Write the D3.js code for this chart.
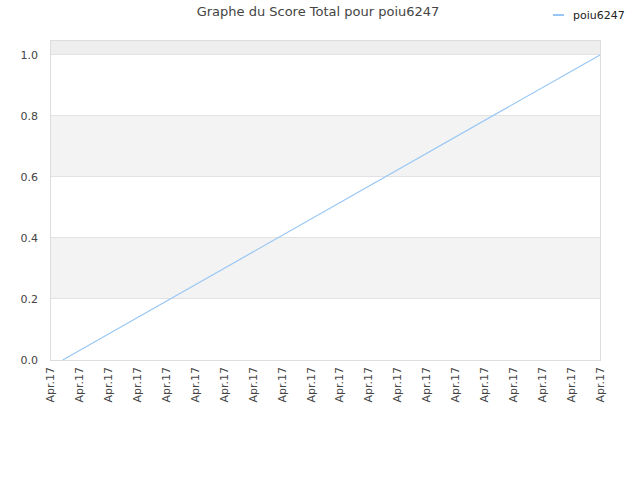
<!DOCTYPE html>
<html>
<head>
<meta charset="utf-8">
<script src="https://cdn.jsdelivr.net/npm/d3@7"></script>
<style>
body { margin: 0; background: #fff; }
svg { font-family: "DejaVu Sans", sans-serif; }
</style>
</head>
<body>
<svg id="chart" width="640" height="480"></svg>
<script>
/*********************
	Data
**********************/
var chart_title = "Graphe du Score Total pour poiu6247";
var series_name = "poiu6247";
var tick_labels = ["Apr.17", "Apr.17", "Apr.17", "Apr.17", "Apr.17", "Apr.17", "Apr.17",
	"Apr.17", "Apr.17", "Apr.17", "Apr.17", "Apr.17", "Apr.17", "Apr.17", "Apr.17",
	"Apr.17", "Apr.17", "Apr.17", "Apr.17", "Apr.17"];
var point_x = [0.44, 19];
var point_y = [0, 1];
var y_ticks = [0, 0.2, 0.4, 0.6, 0.8, 1.0];

/*********************
	Layout
**********************/
var margin = {left: 50, right: 40, top: 40, bottom: 120};
var width = 640 - margin.left - margin.right;
var height = 480 - margin.top - margin.bottom;

var svg = d3.select("#chart");
var g = svg.append("g").attr("transform", "translate(" + margin.left + "," + margin.top + ")");

var x = d3.scaleLinear().domain([0, tick_labels.length - 1]).range([0, width]);
var y = d3.scaleLinear().domain([0, 1.049]).range([height, 0]);

// alternating bands
var band_edges = [0, 0.2, 0.4, 0.6, 0.8, 1.0, 1.049];
for (var i = 0; i < band_edges.length - 1; i++) {
	var fill = (i % 2 == 1) ? "#f3f3f3" : "#ffffff";
	if (i == band_edges.length - 2) fill = "#eeeeee";
	g.append("rect")
		.attr("x", 0)
		.attr("y", y(band_edges[i + 1]))
		.attr("width", width)
		.attr("height", y(band_edges[i]) - y(band_edges[i + 1]))
		.attr("fill", fill);
}

// grid lines
g.selectAll(".grid").data(y_ticks).enter().append("line")
	.attr("x1", 0).attr("x2", width)
	.attr("y1", function(d){ return y(d); })
	.attr("y2", function(d){ return y(d); })
	.attr("stroke", "#e2e2e2").attr("stroke-width", 1)
	.attr("shape-rendering", "crispEdges");

// frame
g.append("rect")
	.attr("x", 0).attr("y", 0)
	.attr("width", width).attr("height", height)
	.attr("fill", "none").attr("stroke", "#dddddd")
	.attr("shape-rendering", "crispEdges");

// y axis labels
g.selectAll(".ylab").data(y_ticks).enter().append("text")
	.attr("x", -12)
	.attr("y", function(d){ return y(d); })
	.attr("dy", "0.35em")
	.attr("text-anchor", "end")
	.attr("font-size", 11)
	.attr("fill", "#444")
	.text(function(d){ return d.toFixed(1); });

// x axis labels
g.selectAll(".xlab").data(tick_labels).enter().append("text")
	.attr("transform", function(d, i){ return "translate(" + (x(i) + 4) + "," + (height + 7) + ") rotate(-90)"; })
	.attr("text-anchor", "end")
	.attr("font-size", 11)
	.attr("fill", "#444")
	.text(function(d){ return d; });

// series line
var pts = point_x.map(function(d, i){ return [d, point_y[i]]; });
var line = d3.line()
	.x(function(d){ return x(d[0]); })
	.y(function(d){ return y(d[1]); });
g.append("path")
	.datum(pts)
	.attr("d", line)
	.attr("fill", "none")
	.attr("stroke", "#99c7f5")
	.attr("stroke-width", 1.2);

// title
svg.append("text")
	.attr("x", 318).attr("y", 16)
	.attr("text-anchor", "middle")
	.attr("font-size", 13)
	.attr("fill", "#444")
	.text(chart_title);

// legend
svg.append("line")
	.attr("x1", 553).attr("x2", 564)
	.attr("y1", 15).attr("y2", 15)
	.attr("stroke", "#99c7f5").attr("stroke-width", 2);
svg.append("text")
	.attr("x", 573).attr("y", 15)
	.attr("dy", "0.35em")
	.attr("font-size", 11)
	.attr("fill", "#222")
	.text(series_name);
</script>
</body>
</html>
